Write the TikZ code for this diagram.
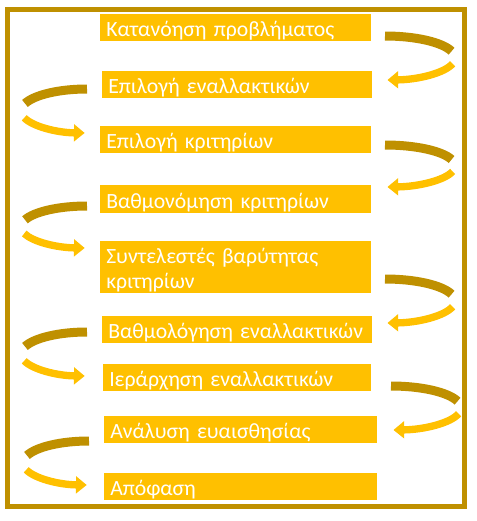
\documentclass[tikz,border=0pt]{standalone}
\usepackage{fontspec}
\setmainfont{Carlito}
\usetikzlibrary{arrows.meta}

\definecolor{boxgold}{HTML}{FFC000}
\definecolor{darkgold}{HTML}{BF9000}

\tikzset{
  stepbox/.style={fill=boxgold, text=white, anchor=north west, align=left,
    inner xsep=4.5pt, inner ysep=0pt, text width=194.25pt,
    text height=16.5pt, text depth=3.75pt,
    font=\fontsize{16.3pt}{18.75pt}\selectfont},
  backband/.style={draw=darkgold, line width=6.75pt},
  frontband/.style={draw=boxgold, line width=5.5pt, -{Triangle[width=12.5pt, length=8pt]}},
}

\begin{document}
\begin{tikzpicture}[x=0.75pt, y=-0.75pt]
    \useasboundingbox (0, 0) rectangle (476, 521);
    % frame
    \draw [darkgold, line width=3.75pt] (7.5, 9.5) rectangle (464.5, 506.5);
    % steps
    \node [stepbox]                       (b1) at (100, 14)  {Κατανόηση προβλήματος};
    \node [stepbox, text width=193.5pt]   (b2) at (102, 71)  {Επιλογή εναλλακτικών};
    \node [stepbox]                       (b3) at (100, 126) {Επιλογή κριτηρίων};
    \node [stepbox, text height=17.25pt]  (b4) at (100, 185) {Βαθμονόμηση κριτηρίων};
    \node [stepbox, text depth=22.5pt]    (b5) at (100, 241) {Συντελεστές βαρύτητας\\κριτηρίων};
    \node [stepbox, text width=193.5pt]   (b6) at (102, 316) {\mbox{Βαθμολόγηση εναλλακτικών}};
    \node [stepbox, text width=192pt]     (b7) at (103, 364) {Ιεράρχηση εναλλακτικών};
    \node [stepbox, text width=195.75pt]  (b8) at (104, 416) {Ανάλυση ευαισθησίας};
    \node [stepbox, text width=195.75pt]  (b9) at (104, 473) {Απόφαση};
    % turns
    \coordinate (t12) at (385, 58);
    \coordinate (t23) at (87, 111);
    \coordinate (t34) at (385, 166);
    \coordinate (t45) at (87, 227);
    \coordinate (t56) at (385, 301);
    \coordinate (t67) at (87, 354);
    \coordinate (t78) at (391, 408);
    \coordinate (t89) at (89, 463);
    % b1 -> b2
    \draw [backband]  (t12) ++(-90:70 and 22) arc [start angle=-90, end angle=-18, x radius=70, y radius=22];
    \draw [frontband] (t12) ++(15:70 and 22)  arc [start angle=15,  end angle=88,  x radius=70, y radius=22];
    % b2 -> b3
    \draw [backband]  (t23) ++(-90:66 and 22) arc [start angle=-90, end angle=-160, x radius=66, y radius=22];
    \draw [frontband] (t23) ++(162:66 and 22) arc [start angle=162, end angle=92,   x radius=66, y radius=22];
    % b3 -> b4
    \draw [backband]  (t34) ++(-90:70 and 21) arc [start angle=-90, end angle=-18, x radius=70, y radius=21];
    \draw [frontband] (t34) ++(15:70 and 21)  arc [start angle=15,  end angle=88,  x radius=70, y radius=21];
    % b4 -> b5
    \draw [backband]  (t45) ++(-90:66 and 21) arc [start angle=-90, end angle=-160, x radius=66, y radius=21];
    \draw [frontband] (t45) ++(162:66 and 21) arc [start angle=162, end angle=92,   x radius=66, y radius=21];
    % b5 -> b6
    \draw [backband]  (t56) ++(-90:70 and 22) arc [start angle=-90, end angle=-18, x radius=70, y radius=22];
    \draw [frontband] (t56) ++(15:70 and 22)  arc [start angle=15,  end angle=88,  x radius=70, y radius=22];
    % b6 -> b7
    \draw [backband]  (t67) ++(-90:66 and 22) arc [start angle=-90, end angle=-160, x radius=66, y radius=22];
    \draw [frontband] (t67) ++(162:66 and 22) arc [start angle=162, end angle=92,   x radius=66, y radius=22];
    % b7 -> b8
    \draw [backband]  (t78) ++(-90:70 and 22) arc [start angle=-90, end angle=-18, x radius=70, y radius=22];
    \draw [frontband] (t78) ++(15:70 and 22)  arc [start angle=15,  end angle=88,  x radius=70, y radius=22];
    % b8 -> b9
    \draw [backband]  (t89) ++(-90:66 and 22) arc [start angle=-90, end angle=-160, x radius=66, y radius=22];
    \draw [frontband] (t89) ++(162:66 and 22) arc [start angle=162, end angle=92,   x radius=66, y radius=22];
\end{tikzpicture}
\end{document}
